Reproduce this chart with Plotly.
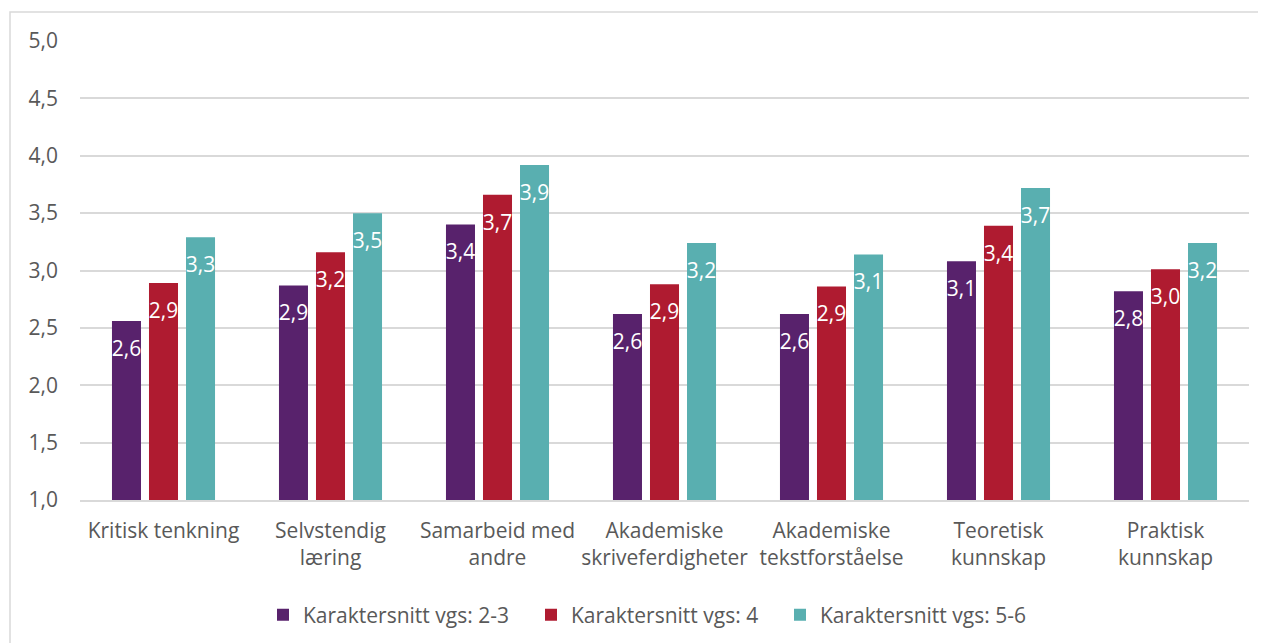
import plotly.graph_objects as go

categories = [
    "Kritisk tenkning",
    "Selvstendig<br>læring",
    "Samarbeid med<br>andre",
    "Akademiske<br>skriveferdigheter",
    "Akademiske<br>tekstforståelse",
    "Teoretisk<br>kunnskap",
    "Praktisk<br>kunnskap",
]
series_names = ["Karaktersnitt vgs: 2-3", "Karaktersnitt vgs: 4", "Karaktersnitt vgs: 5-6"]
vals_23 = [2.56, 2.87, 3.40, 2.62, 2.62, 3.08, 2.82]
vals_4 = [2.89, 3.16, 3.66, 2.88, 2.86, 3.39, 3.01]
vals_56 = [3.29, 3.50, 3.92, 3.24, 3.14, 3.72, 3.24]
colors = ["#58226C", "#AF1B30", "#59AFB0"]
legend_widths = [223, 204, 206]
y_ticks = [1.0, 1.5, 2.0, 2.5, 3.0, 3.5, 4.0, 4.5, 5.0]

FONT = "Open Sans"
GRAY = "#595959"
BARGAP = 0.335

# page body has an 8px margin; the figure is sized to fit the window
W, H = 1258, 635
ML, MR, MT, MB = 72, 17, 33, 143
PW = W - ML - MR
PH = H - MT - MB


def py(fig_y):
    """figure pixel row -> paper coordinate"""
    return (MT + PH - fig_y) / PH


def px(fig_x):
    return (fig_x - ML) / PW


fig = go.Figure()
all_vals = [vals_23, vals_4, vals_56]
for name, vals, col, lw in zip(series_names, all_vals, colors, legend_widths):
    fig.add_trace(go.Bar(
        x=categories, y=vals, name=name, marker=dict(color=col, line=dict(width=0)),
        offsetgroup=name, hoverinfo="skip", legendwidth=lw,
    ))
for name, vals in zip(series_names, all_vals):
    fig.add_trace(go.Scatter(
        x=categories, y=vals, mode="markers+text", offsetgroup=name,
        text=[f"{v:.1f}".replace(".", ",") for v in vals],
        textposition="bottom center",
        textfont=dict(family=FONT, size=21, color="white"),
        marker=dict(size=29, opacity=0), showlegend=False, hoverinfo="skip",
        cliponaxis=False,
    ))

fig.update_layout(
    width=W, height=H,
    margin=dict(l=ML, r=MR, t=MT, b=MB, autoexpand=False),
    paper_bgcolor="white", plot_bgcolor="white",
    barmode="group", bargap=BARGAP, bargroupgap=0.216,
    scattermode="group", scattergap=BARGAP,
    separators=", ",
    font=dict(family=FONT, color=GRAY, size=21),
    showlegend=True,
    legend=dict(orientation="h", x=px(255), xanchor="left", y=py(607), yanchor="middle",
                font=dict(family=FONT, size=21, color=GRAY), itemwidth=30,
                traceorder="normal"),
    xaxis=dict(showgrid=False, showline=True, linecolor="#d9d9d9", linewidth=1.5,
               tickfont=dict(family=FONT, size=21, color=GRAY), ticks="",
               ticklabelstandoff=11, fixedrange=True),
    yaxis=dict(range=[1, 5], tickvals=y_ticks, tickformat=".1f", showgrid=True,
               gridcolor="#d9d9d9", gridwidth=1.5, zeroline=False, showline=False,
               tickfont=dict(family=FONT, size=21, color=GRAY), ticks="", ticklabelstandoff=21,
               fixedrange=True),
    shapes=[dict(type="rect", xref="paper", yref="paper",
                 x0=px(2), x1=px(W + 20), y0=py(H + 20), y1=py(4),
                 line=dict(color="#d9d9d9", width=1.5), layer="below")],
)

fig.write_html("out.html")
